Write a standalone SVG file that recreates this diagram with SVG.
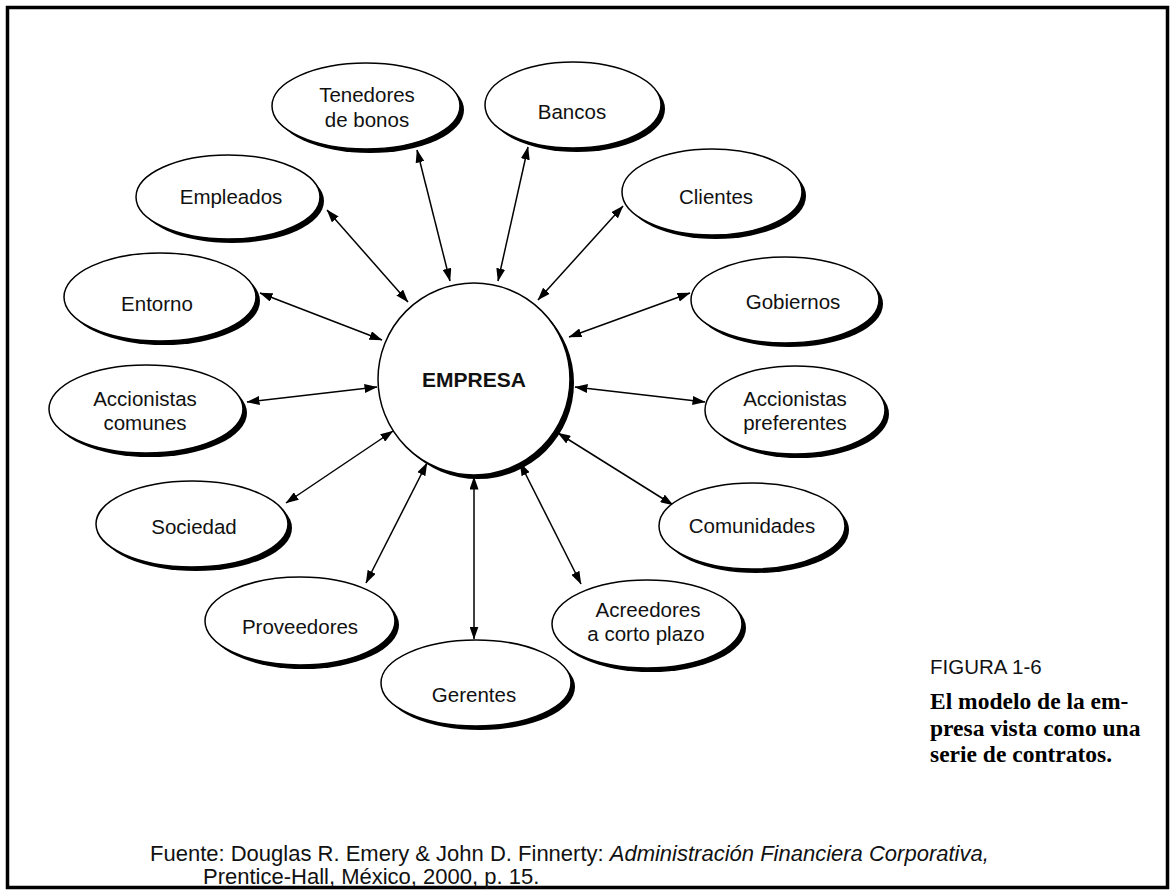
<svg xmlns="http://www.w3.org/2000/svg" width="1175" height="895" viewBox="0 0 1175 895">
<defs>
<marker id="ah" viewBox="0 0 13 9" refX="12.5" refY="4.5" markerWidth="13" markerHeight="9" markerUnits="userSpaceOnUse" orient="auto-start-reverse">
<path d="M0,0 L13,4.5 L0,9 Z" fill="#000"/>
</marker>
<style>
.sh{fill:#000}
.el{fill:#fff;stroke:#000;stroke-width:1.5}
.lb{font-family:"Liberation Sans",Arial,sans-serif;font-size:20.5px;fill:#111;text-anchor:middle}
.cn line{stroke:#000;stroke-width:1.5;marker-start:url(#ah);marker-end:url(#ah)}
</style>
</defs>
<rect x="0" y="0" width="1175" height="895" fill="#fff"/>
<rect x="7.5" y="7.5" width="1160" height="880" fill="none" stroke="#000" stroke-width="3.5"/>

<g id="connectors" class="cn">
<line x1="417" y1="150" x2="450" y2="281"/>
<line x1="528" y1="147" x2="498" y2="281"/>
<line x1="623" y1="206" x2="538" y2="300"/>
<line x1="327" y1="210" x2="408" y2="302"/>
<line x1="260" y1="293" x2="382" y2="340"/>
<line x1="690" y1="293" x2="569" y2="337"/>
<line x1="247" y1="402" x2="377" y2="387"/>
<line x1="705" y1="402" x2="575" y2="387"/>
<line x1="286" y1="503" x2="393" y2="431"/>
<line x1="673" y1="505" x2="558" y2="433"/>
<line x1="366" y1="583" x2="427" y2="463"/>
<line x1="581" y1="584" x2="520" y2="463"/>
<line x1="474" y1="477" x2="474" y2="639"/>
</g>

<g id="empresa">
<circle class="sh" cx="478" cy="383" r="96"/>
<circle class="el" cx="474" cy="379" r="96"/>
<text x="474" y="387" style="font-family:'Liberation Sans',Arial,sans-serif;font-size:21px;font-weight:bold;fill:#111;text-anchor:middle">EMPRESA</text>
</g>

<g id="tenedores">
<ellipse class="sh" cx="370" cy="110" rx="94" ry="43"/>
<ellipse class="el" cx="366" cy="106" rx="94" ry="43"/>
<text class="lb" x="367" y="102">Tenedores</text>
<text class="lb" x="367" y="127">de bonos</text>
</g>

<g id="bancos">
<ellipse class="sh" cx="577" cy="109" rx="88" ry="43"/>
<ellipse class="el" cx="573" cy="105" rx="88" ry="43"/>
<text class="lb" x="572" y="119">Bancos</text>
</g>

<g id="clientes">
<ellipse class="sh" cx="716" cy="196" rx="90" ry="43"/>
<ellipse class="el" cx="712" cy="192" rx="90" ry="43"/>
<text class="lb" x="716" y="204">Clientes</text>
</g>

<g id="empleados">
<ellipse class="sh" cx="232" cy="201" rx="92" ry="42"/>
<ellipse class="el" cx="228" cy="197" rx="92" ry="42"/>
<text class="lb" x="231" y="204">Empleados</text>
</g>

<g id="entorno">
<ellipse class="sh" cx="164" cy="301" rx="96" ry="44"/>
<ellipse class="el" cx="160" cy="297" rx="96" ry="44"/>
<text class="lb" x="157" y="311">Entorno</text>
</g>

<g id="gobiernos">
<ellipse class="sh" cx="789" cy="304" rx="94" ry="43"/>
<ellipse class="el" cx="785" cy="300" rx="94" ry="43"/>
<text class="lb" x="793" y="309">Gobiernos</text>
</g>

<g id="accionistas-comunes">
<ellipse class="sh" cx="150" cy="413" rx="97" ry="44"/>
<ellipse class="el" cx="146" cy="409" rx="97" ry="44"/>
<text class="lb" x="145" y="406">Accionistas</text>
<text class="lb" x="145" y="430">comunes</text>
</g>

<g id="accionistas-preferentes">
<ellipse class="sh" cx="799" cy="414" rx="90" ry="44"/>
<ellipse class="el" cx="795" cy="410" rx="90" ry="44"/>
<text class="lb" x="795" y="406">Accionistas</text>
<text class="lb" x="795" y="430">preferentes</text>
</g>

<g id="sociedad">
<ellipse class="sh" cx="196" cy="528" rx="96" ry="43"/>
<ellipse class="el" cx="192" cy="524" rx="96" ry="43"/>
<text class="lb" x="194" y="534">Sociedad</text>
</g>

<g id="comunidades">
<ellipse class="sh" cx="756" cy="530" rx="93" ry="43"/>
<ellipse class="el" cx="752" cy="526" rx="93" ry="43"/>
<text class="lb" x="752" y="533">Comunidades</text>
</g>

<g id="proveedores">
<ellipse class="sh" cx="304" cy="625" rx="95" ry="44"/>
<ellipse class="el" cx="300" cy="621" rx="95" ry="44"/>
<text class="lb" x="300" y="634">Proveedores</text>
</g>

<g id="acreedores">
<ellipse class="sh" cx="651" cy="628" rx="95" ry="44"/>
<ellipse class="el" cx="647" cy="624" rx="95" ry="44"/>
<text class="lb" x="648" y="617">Acreedores</text>
<text class="lb" x="646" y="641">a corto plazo</text>
</g>

<g id="gerentes">
<ellipse class="sh" cx="480" cy="687" rx="95" ry="43"/>
<ellipse class="el" cx="476" cy="683" rx="95" ry="43"/>
<text class="lb" x="474" y="702">Gerentes</text>
</g>

<g id="caption">
<text x="930" y="674" style="font-family:'Liberation Sans',Arial,sans-serif;font-size:20.5px;fill:#111">FIGURA 1-6</text>
<g style="font-family:'Liberation Serif','Times New Roman',serif;font-size:23.5px;font-weight:bold;fill:#000">
<text x="930" y="709">El modelo de la em-</text>
<text x="930" y="736">presa vista como una</text>
<text x="930" y="762">serie de contratos.</text>
</g>
</g>

<g id="source" style="font-family:'Liberation Sans',Arial,sans-serif;font-size:22px;fill:#111">
<text x="150" y="861">Fuente: Douglas R. Emery &amp; John D. Finnerty: <tspan font-style="italic">Administración Financiera Corporativa,</tspan></text>
<text x="203" y="884">Prentice-Hall, México, 2000, p. 15.</text>
</g>
</svg>
